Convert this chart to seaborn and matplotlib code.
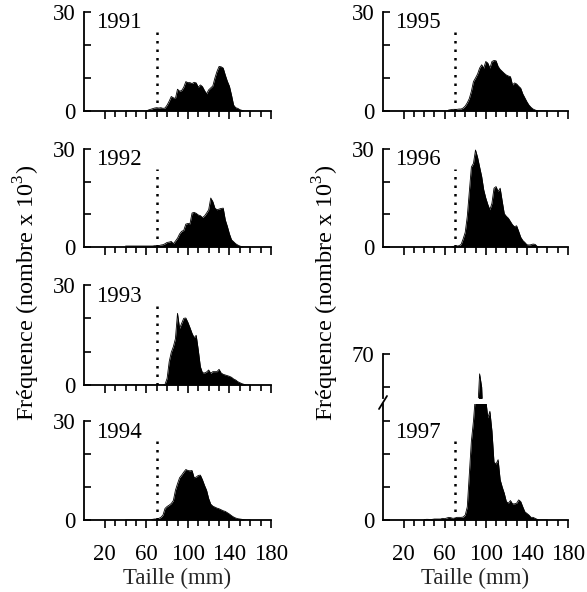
import matplotlib
matplotlib.use("Agg")
import matplotlib.pyplot as plt
from matplotlib.lines import Line2D
import seaborn as sns

# ---------------- data (length classes in mm, frequency in thousands) -------------
taille = [40, 42, 44, 46, 48, 50, 52, 54, 56, 58, 60, 62, 64, 66, 68, 70, 72, 74, 76, 78,
          80, 82, 84, 86, 88, 90, 92, 94, 96, 98, 100, 102, 104, 106, 108, 110, 112, 114, 116, 118,
          120, 122, 124, 126, 128, 130, 132, 134, 136, 138, 140, 142, 144, 146, 148, 150, 152, 154, 156, 158, 160]

f1991 = [0, 0, 0, 0, 0, 0, 0, 0, 0, 0, 0, 0.3, 0.5, 0.7, 0.9, 1.0, 0.9, 1.0, 0.8, 0.9,
         1.8, 3.0, 4.4, 4.0, 3.8, 6.6, 6.0, 6.2, 7.2, 8.9, 8.6, 8.6, 8.3, 8.7, 8.5, 7.2, 7.9, 7.4, 6.2, 5.2,
         6.4, 7.0, 7.6, 10.0, 12.0, 13.5, 13.4, 13.0, 10.9, 9.0, 7.5, 4.8, 1.8, 1.0, 0.8, 0.4, 0.2, 0, 0, 0, 0]

f1992 = [0.3, 0.3, 0.3, 0.3, 0.3, 0.3, 0.3, 0.3, 0.3, 0.3, 0.3, 0.3, 0.3, 0.3, 0.4, 0.4, 0.4, 0.6, 0.7, 1.0,
         1.4, 1.5, 1.7, 1.0, 1.8, 2.7, 4.0, 4.8, 5.1, 7.0, 7.2, 7.1, 10.4, 10.6, 10.3, 9.8, 9.6, 9.0, 9.5, 10.4,
         11.4, 15.0, 13.9, 11.9, 11.4, 11.6, 11.8, 11.9, 8.3, 6.3, 4.0, 2.2, 1.6, 1.0, 0.6, 0.3, 0.1, 0, 0, 0, 0]

f1993 = [0, 0, 0, 0, 0, 0, 0, 0, 0, 0, 0, 0, 0, 0, 0, 0, 0, 0, 0, 0.2,
         2.0, 7.0, 9.8, 11.5, 13.9, 21.5, 17.0, 18.5, 20.0, 20.1, 18.8, 17.2, 15.5, 14.2, 14.9, 10.5, 5.5, 3.7, 3.6, 3.9,
         4.5, 3.5, 4.0, 4.0, 4.0, 4.7, 3.6, 3.2, 3.0, 2.8, 2.6, 2.3, 1.8, 1.5, 1.0, 0.7, 0.4, 0.2, 0, 0, 0]

f1994 = [0, 0, 0, 0, 0, 0, 0, 0, 0, 0, 0, 0, 0, 0.2, 0.3, 0.3, 0.5, 0.8, 1.5, 3.5,
         4.1, 4.5, 5.0, 5.9, 9.0, 11.0, 12.8, 13.6, 14.5, 15.3, 15.0, 14.9, 15.0, 12.8, 13.0, 13.5, 13.6, 12.2, 10.5, 9.0,
         6.5, 4.8, 4.2, 3.9, 3.6, 3.4, 3.1, 2.8, 2.6, 2.2, 1.8, 1.3, 0.9, 0.6, 0.4, 0.3, 0.2, 0.1, 0, 0, 0]

f1995 = [0, 0, 0, 0, 0, 0, 0, 0, 0, 0, 0, 0, 0.3, 0.4, 0.5, 0.5, 0.5, 0.6, 0.6, 0.9,
         1.5, 2.5, 3.8, 6.0, 8.9, 10.0, 11.2, 13.0, 14.0, 13.0, 15.0, 14.5, 13.0, 15.0, 15.3, 15.2, 13.5, 12.6, 12.0, 11.4,
         10.9, 10.6, 10.4, 7.9, 8.5, 8.2, 7.5, 6.9, 5.2, 4.0, 2.8, 1.8, 1.1, 0.6, 0.3, 0.1, 0, 0, 0, 0, 0]

f1996 = [0, 0, 0, 0, 0, 0, 0, 0, 0, 0, 0, 0, 0, 0, 0.2, 0.2, 0.3, 0.4, 0.8, 2.5,
         4.5, 9.4, 17.0, 24.5, 25.6, 29.7, 27.5, 24.5, 21.6, 17.5, 15.0, 13.0, 11.4, 13.4, 18.0, 18.5, 17.0, 18.0, 14.0, 10.2,
         9.4, 8.8, 7.8, 6.8, 6.2, 6.5, 4.8, 3.0, 2.0, 1.4, 0.7, 0.6, 0.7, 0.9, 0.8, 0.2, 0, 0, 0, 0, 0]

f1997 = [0.1, 0.2, 0.2, 0.1, 0.2, 0.3, 0.3, 0.3, 0.3, 0.5, 0.4, 0.6, 0.8, 0.7, 0.5, 0.6, 0.8, 0.8, 0.8, 0.9,
         1.5, 4.0, 14.0, 24.0, 30.0, 38.0, 52.0, 64.0, 60.0, 44.0, 36.5, 31.0, 33.0, 27.0, 17.5, 17.0, 18.3, 12.2, 10.0, 8.1,
         5.6, 5.1, 5.9, 4.9, 4.9, 5.1, 6.1, 5.6, 4.0, 2.5, 2.0, 1.5, 0.8, 0.8, 0.5, 0.2, 0, 0, 0, 0, 0]

annees = ["1991", "1992", "1993", "1994", "1995", "1996", "1997"]
x_major = [20, 60, 100, 140, 180]
x_minor = [30, 40, 50, 70, 80, 90, 110, 120, 130, 150, 160, 170]
seuil = 70        # dotted reference length
seuil_haut = 24

FS = 16.5

# ---------------- style ----------------
sns.set_theme(style="ticks")
plt.rcParams["font.family"] = ["Liberation Serif", "DejaVu Serif"]
plt.rcParams["mathtext.fontset"] = "custom"
plt.rcParams["mathtext.rm"] = "Liberation Serif"
plt.rcParams["axes.edgecolor"] = "black"
plt.rcParams["xtick.color"] = "black"
plt.rcParams["ytick.color"] = "black"
plt.rcParams["text.color"] = "black"

W, H = 587, 592
fig = plt.figure(figsize=(W / 100, H / 100), dpi=100)
fig.patch.set_facecolor("white")


def make_ax(x0, top, x1, bottom):
    return fig.add_axes([x0 / W, 1 - bottom / H, (x1 - x0) / W, (bottom - top) / H])


def style(ax, ylim, yticks, ylabels, xlabels=False, show_bottom=True):
    ax.set_xlim(0, 180)
    ax.set_ylim(*ylim)
    ax.patch.set_alpha(0)
    ax.set_xticks(x_major)
    ax.set_xticks(x_minor, minor=True)
    ax.set_xticklabels([str(v) for v in x_major])
    ax.tick_params(axis="x", which="major", direction="out", length=5.5, width=1.2,
                   pad=12, labelsize=FS, labelbottom=xlabels, bottom=show_bottom)
    ax.tick_params(axis="x", which="minor", direction="out", length=4, width=1.2,
                   bottom=show_bottom)
    ax.set_yticks(yticks)
    ax.set_yticklabels(ylabels)
    ax.tick_params(axis="y", which="major", direction="in", length=5, width=1.2,
                   pad=6, labelsize=FS)
    ax.spines["top"].set_visible(False)
    ax.spines["right"].set_visible(False)
    ax.spines["left"].set_linewidth(1.3)
    ax.spines["bottom"].set_linewidth(1.3)
    if not show_bottom:
        ax.spines["bottom"].set_visible(False)
    ax.set_xlabel("")
    ax.set_ylabel("")


def draw(ax, vals):
    sns.lineplot(x=taille, y=vals, ax=ax, color="black", linewidth=0.6)
    ax.fill_between(taille, vals, 0, color="black", linewidth=0)


series = [f1991, f1992, f1993, f1994, f1995, f1996, f1997]

# left column 1991-1994
left_rects = [(84, 12, 271, 111), (84, 149, 271, 247), (84, 285, 271, 385), (84, 421, 271, 520)]
for i, r in enumerate(left_rects):
    ax = make_ax(*r)
    draw(ax, series[i])
    ax.vlines(seuil, 0, seuil_haut, colors="black", linestyles=(0, (1, 2.4)), linewidth=1.8)
    ax.text(12, 25, annees[i], fontsize=FS, ha="left", va="baseline")
    style(ax, (0, 30), [0, 10, 20, 30], ["0", "", "", "30"], xlabels=(i == 3))
    if i == 3:
        ax.set_xlabel("Taille (mm)", fontsize=FS, labelpad=2)

# right column 1995-1996
right_rects = [(383, 12, 568, 111), (383, 149, 568, 247)]
for j, r in enumerate(right_rects):
    ax = make_ax(*r)
    draw(ax, series[4 + j])
    ax.vlines(seuil, 0, seuil_haut, colors="black", linestyles=(0, (1, 2.4)), linewidth=1.8)
    ax.text(12, 25, annees[4 + j], fontsize=FS, ha="left", va="baseline")
    style(ax, (0, 30), [0, 10, 20, 30], ["0", "", "", "30"])

# 1997 : broken axis
ax_lo = make_ax(383, 404, 568, 520)
draw(ax_lo, f1997)
ax_lo.vlines(seuil, 0, seuil_haut, colors="black", linestyles=(0, (1, 2.4)), linewidth=1.8)
ax_lo.text(12, 25, annees[6], fontsize=FS, ha="left", va="baseline")
style(ax_lo, (0, 35.2), [0, 10, 20, 30], ["0", "", "", ""], xlabels=True)
ax_lo.set_xlabel("Taille (mm)", fontsize=FS, labelpad=2)

ax_hi = make_ax(383, 354, 568, 398)
draw(ax_hi, f1997)
style(ax_hi, (56.7, 70), [60, 70], ["", "70"], show_bottom=False)
ax_hi.tick_params(axis="x", which="both", labelbottom=False, bottom=False)

# break mark on the y axis
fig.add_artist(Line2D([379 / W, 387 / W], [1 - 409 / H, 1 - 396 / H],
                      transform=fig.transFigure, color="black", linewidth=1.3))

# y labels
ylab = "Fréquence (nombre x 10$^{3}$)"
fig.text(27 / W, 1 - 293 / H, ylab, rotation=90, ha="center", va="center", fontsize=17.5)
fig.text(326 / W, 1 - 293 / H, ylab, rotation=90, ha="center", va="center", fontsize=17.5)

fig.savefig("out.png", dpi=100, facecolor="white")
